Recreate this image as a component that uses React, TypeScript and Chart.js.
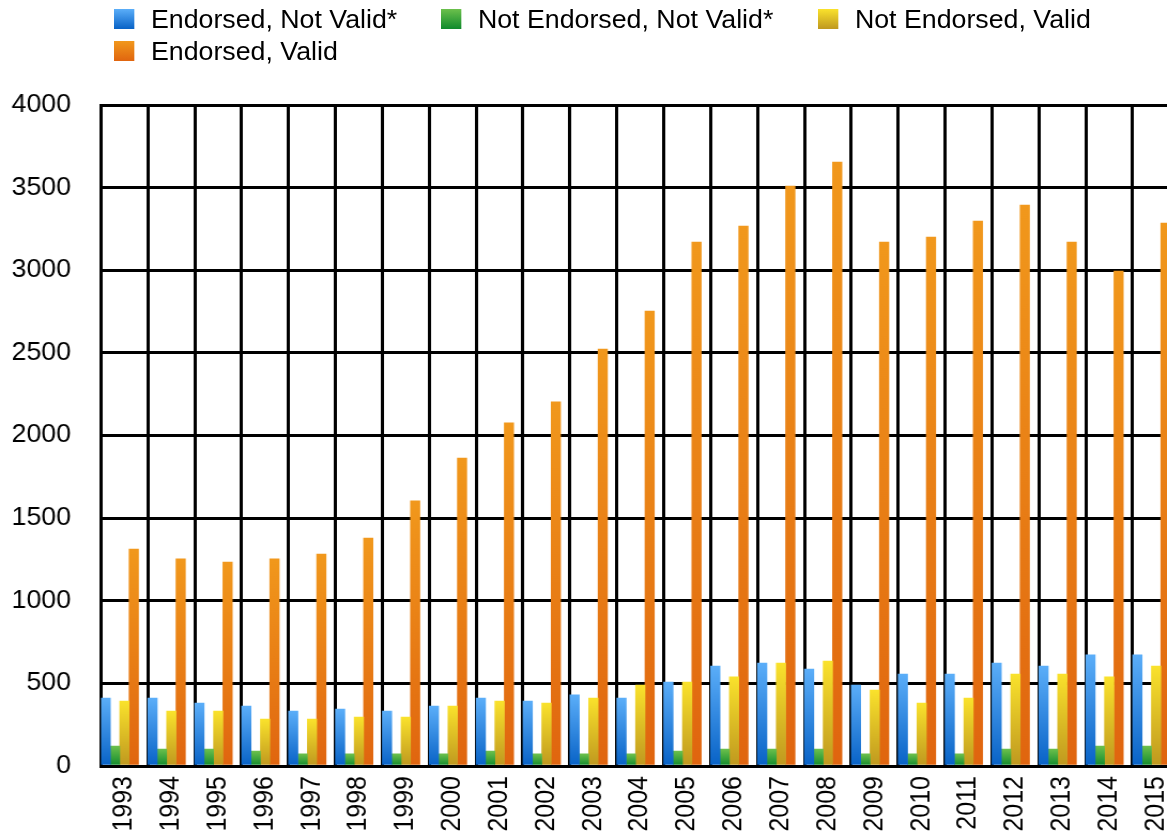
import React, { useEffect, useRef } from 'react';
import { Chart, registerables } from 'chart.js';

Chart.register(...registerables);

const years = [
  '1993', '1994', '1995', '1996', '1997', '1998', '1999', '2000', '2001', '2002', '2003', '2004',
  '2005', '2006', '2007', '2008', '2009', '2010', '2011', '2012', '2013', '2014', '2015',
];

const seriesNames = [
  'Endorsed, Not Valid*',
  'Not Endorsed, Not Valid*',
  'Not Endorsed, Valid',
  'Endorsed, Valid',
];

const endorsedNotValid = [411, 411, 381, 363, 333, 345, 333, 363, 411, 393, 430, 411, 508, 605, 623, 587, 490, 557, 557, 623, 605, 672, 672];
const notEndorsedNotValid = [121, 103, 103, 91, 73, 73, 73, 73, 91, 73, 73, 73, 91, 103, 103, 103, 73, 73, 73, 103, 103, 121, 121];
const notEndorsedValid = [393, 333, 333, 284, 284, 296, 296, 363, 393, 381, 411, 490, 508, 539, 623, 635, 460, 381, 411, 557, 557, 539, 605];
const endorsedValid = [1313, 1253, 1234, 1253, 1283, 1380, 1604, 1864, 2076, 2203, 2523, 2753, 3171, 3268, 3510, 3655, 3171, 3201, 3298, 3395, 3171, 2995, 3286];

const yMin = 0;
const yMax = 4000;
const yStep = 500;

// [top colour, bottom colour]
const seriesColors: [string, string][] = [
  ['#5BAEF9', '#0862C6'],
  ['#6CC04C', '#0F8A2C'],
  ['#FAE22C', '#BF981F'],
  ['#F1981C', '#E0650F'],
];

const FONT = '"Liberation Sans", Arial, Helvetica, sans-serif';
const FONT_SIZE = 25;

// the reference is slightly wider than tall; the whole drawing is stretched horizontally
const STRETCH_X = 1.07;
const PLOT_LEFT = 101 / STRETCH_X;
const PLOT_RIGHT = 1180 / STRETCH_X;
const CANVAS_W = Math.ceil(PLOT_RIGHT + 32);
const CANVAS_H = 836;

const legendLayout = [
  { x: 114, y: 9 },
  { x: 441, y: 9 },
  { x: 818, y: 9 },
  { x: 114, y: 41 },
];

export default function App() {
  const ref = useRef<HTMLCanvasElement>(null);

  useEffect(() => {
    const canvas = ref.current;
    if (!canvas) return;

    const makeBg = (stops: [string, string]) => (c: any) => {
      const chart = c.chart;
      const area = chart.chartArea;
      if (!area || c.type !== 'data' || c.raw == null) return stops[1];
      const y = chart.scales.y;
      const top = y.getPixelForValue(c.raw);
      const bot = y.getPixelForValue(0);
      if (!isFinite(top) || !isFinite(bot) || top === bot) return stops[1];
      const g = chart.ctx.createLinearGradient(0, top, 0, bot);
      g.addColorStop(0, stops[0]);
      g.addColorStop(1, stops[1]);
      return g;
    };

    const values = [endorsedNotValid, notEndorsedNotValid, notEndorsedValid, endorsedValid];
    const datasets: any[] = values.map((d, i) => ({
      label: seriesNames[i],
      data: d,
      backgroundColor: makeBg(seriesColors[i]),
      borderWidth: 0,
      categoryPercentage: 1,
      barPercentage: 1,
    }));
    // empty slot that leaves the gap at the right of each year group
    datasets.push({
      label: '',
      data: years.map(() => null),
      backgroundColor: 'rgba(0,0,0,0)',
      borderWidth: 0,
      categoryPercentage: 1,
      barPercentage: 1,
    });

    const chart = new Chart(canvas, {
      type: 'bar',
      data: { labels: years, datasets },
      options: {
        animation: false,
        responsive: false,
        devicePixelRatio: 1,
        layout: { padding: { top: 105, left: 0, right: CANVAS_W - PLOT_RIGHT, bottom: 0 } },
        plugins: {
          legend: { display: false },
          tooltip: { enabled: false },
        },
        scales: {
          x: {
            z: 1,
            afterFit: (s: any) => {
              s.height = 70;
            },
            grid: { color: '#000', lineWidth: 3, drawTicks: false, offset: true },
            border: { display: true, color: '#000', width: 3 },
            ticks: {
              autoSkip: false,
              minRotation: 90,
              maxRotation: 90,
              padding: 10,
              color: '#000',
              font: { family: FONT, size: FONT_SIZE },
            },
          },
          y: {
            z: 1,
            min: yMin,
            max: yMax,
            afterFit: (s: any) => {
              s.width = PLOT_LEFT;
            },
            grid: { color: '#000', lineWidth: 3, drawTicks: false },
            border: { display: true, color: '#000', width: 3 },
            ticks: {
              stepSize: yStep,
              padding: 28,
              color: '#000',
              font: { family: FONT, size: FONT_SIZE },
              callback: (v: any) => String(v),
            },
          },
        },
      },
    });
    return () => chart.destroy();
  }, []);

  return (
    <div
      style={{
        position: 'fixed',
        left: 0,
        top: 0,
        width: 1167,
        height: 836,
        overflow: 'hidden',
        background: '#fff',
      }}
    >
      <canvas
        ref={ref}
        width={CANVAS_W}
        height={CANVAS_H}
        style={{
          position: 'absolute',
          left: 0,
          top: 0,
          width: CANVAS_W * STRETCH_X,
          height: CANVAS_H,
        }}
      />
      {seriesNames.map((name, i) => (
        <div
          key={name}
          style={{
            position: 'absolute',
            left: legendLayout[i].x,
            top: legendLayout[i].y,
            height: 20,
            display: 'flex',
            alignItems: 'center',
            whiteSpace: 'nowrap',
            fontFamily: FONT,
            fontSize: FONT_SIZE,
            color: '#000',
            transform: `scaleX(${STRETCH_X})`,
            transformOrigin: 'left center',
          }}
        >
          <span
            style={{
              display: 'inline-block',
              width: 19,
              height: 20,
              marginRight: 15.5,
              background: `linear-gradient(${seriesColors[i][0]}, ${seriesColors[i][1]})`,
            }}
          />
          <span>{name}</span>
        </div>
      ))}
    </div>
  );
}
